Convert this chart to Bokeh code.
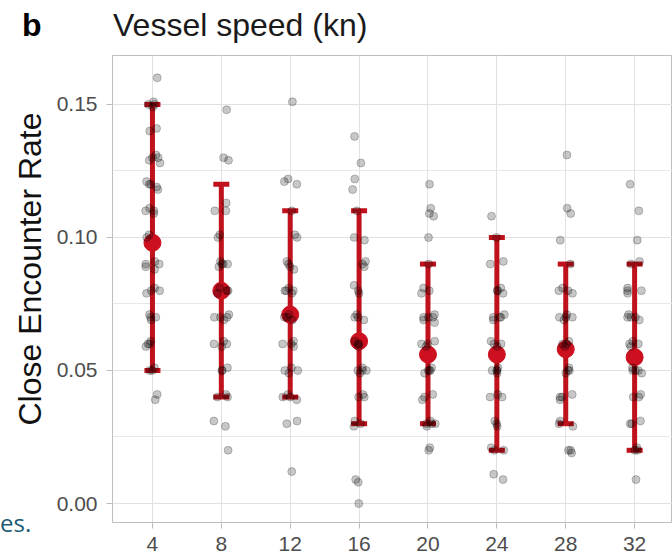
from bokeh.plotting import figure
from bokeh.layouts import column
from bokeh.models import (ColumnDataSource, FixedTicker, Range1d, Title, Div,
                          NumeralTickFormatter)
from bokeh.transform import jitter
from bokeh.embed import file_html
from bokeh.resources import INLINE

# ---- data ----
panel_tag = "b"
chart_title = "Vessel speed (kn)"
y_title = "Close Encounter Rate"
page_fragment = "es."
speeds = ["4", "8", "12", "16", "20", "24", "28", "32"]
mean_rate = [0.098, 0.080, 0.071, 0.061, 0.056, 0.056, 0.058, 0.055]
lower_rate = [0.05, 0.04, 0.04, 0.03, 0.03, 0.02, 0.03, 0.02]
upper_rate = [0.15, 0.12, 0.11, 0.11, 0.09, 0.10, 0.09, 0.09]

g4 = [0.160, 0.151, 0.150, 0.150, 0.149, 0.141, 0.140, 0.131, 0.130, 0.130, 0.129, 0.128,
      0.121, 0.120, 0.120, 0.119, 0.118, 0.111, 0.110, 0.110, 0.109, 0.101, 0.100, 0.091,
      0.090, 0.090, 0.089, 0.088, 0.081, 0.080, 0.080, 0.079, 0.071, 0.070, 0.070, 0.069,
      0.061, 0.060, 0.060, 0.059, 0.051, 0.050, 0.050, 0.041, 0.039]
g8 = [0.148, 0.130, 0.129, 0.113, 0.110, 0.110, 0.101, 0.100, 0.091, 0.090, 0.090, 0.090,
      0.089, 0.081, 0.080, 0.080, 0.079, 0.071, 0.070, 0.070, 0.070, 0.069, 0.061, 0.060,
      0.060, 0.059, 0.051, 0.050, 0.050, 0.041, 0.040, 0.040, 0.031, 0.029, 0.020]
g12 = [0.151, 0.122, 0.121, 0.120, 0.110, 0.101, 0.100, 0.091, 0.090, 0.089, 0.088, 0.081,
       0.080, 0.080, 0.080, 0.079, 0.071, 0.070, 0.070, 0.069, 0.061, 0.060, 0.060, 0.059,
       0.051, 0.050, 0.050, 0.049, 0.041, 0.040, 0.040, 0.039, 0.031, 0.030, 0.012]
g16 = [0.138, 0.128, 0.122, 0.118, 0.110, 0.100, 0.099, 0.091, 0.090, 0.089, 0.082, 0.080,
       0.079, 0.071, 0.070, 0.070, 0.069, 0.061, 0.060, 0.060, 0.059, 0.051, 0.050, 0.050,
       0.050, 0.049, 0.041, 0.040, 0.040, 0.031, 0.030, 0.029, 0.009, 0.008, 0.000]
g20 = [0.120, 0.111, 0.109, 0.108, 0.100, 0.090, 0.081, 0.080, 0.079, 0.071, 0.070, 0.070,
       0.070, 0.069, 0.068, 0.061, 0.060, 0.060, 0.059, 0.051, 0.050, 0.050, 0.050, 0.049,
       0.041, 0.040, 0.039, 0.031, 0.030, 0.030, 0.030, 0.029, 0.021, 0.020]
g24 = [0.108, 0.100, 0.091, 0.090, 0.081, 0.080, 0.080, 0.079, 0.071, 0.070, 0.070, 0.070,
       0.069, 0.061, 0.060, 0.060, 0.059, 0.051, 0.050, 0.050, 0.050, 0.049, 0.041, 0.040,
       0.040, 0.031, 0.030, 0.029, 0.021, 0.020, 0.020, 0.011, 0.009]
g28 = [0.131, 0.111, 0.109, 0.099, 0.090, 0.081, 0.080, 0.080, 0.079, 0.071, 0.070, 0.070,
       0.070, 0.069, 0.061, 0.060, 0.060, 0.059, 0.051, 0.050, 0.050, 0.049, 0.041, 0.040,
       0.040, 0.039, 0.031, 0.030, 0.029, 0.020, 0.020, 0.019]
g32 = [0.120, 0.110, 0.099, 0.091, 0.090, 0.081, 0.080, 0.080, 0.079, 0.071, 0.070, 0.070,
       0.070, 0.069, 0.061, 0.060, 0.060, 0.059, 0.051, 0.050, 0.050, 0.050, 0.049, 0.041,
       0.040, 0.040, 0.031, 0.030, 0.030, 0.021, 0.020, 0.020, 0.009]
observations = [g4, g8, g12, g16, g20, g24, g28, g32]
y_ticks = [0.0, 0.05, 0.10, 0.15]
y_minor = [0.025, 0.075, 0.125]

# ---- sources ----
pos = list(range(1, len(speeds) + 1))
px, py = [], []
for i, g in enumerate(observations):
    px += [pos[i]] * len(g)
    py += g
pts = ColumnDataSource(dict(x=px, y=py))
summ = ColumnDataSource(dict(x=pos, mean=mean_rate, lo=lower_rate, hi=upper_rate))

RED = "#C0121C"
GRID = "#E1E1E1"
BORDER = "#BDBDBD"
FONT = "Liberation Sans"

# ---- header (panel tag + title, plus the stray page text at lower left) ----
header = Div(
    text=('<div style="position:relative;font-family:\'Liberation Sans\',Arial,sans-serif;'
          'font-size:32px;line-height:32px;color:#1A1A1A;white-space:nowrap;'
          'padding-top:9px;margin:0;">'
          '<span style="display:inline-block;box-sizing:content-box;width:91px;'
          'padding-left:22px;font-weight:bold;color:#000;">%s</span>%s'
          '<span style="position:absolute;left:0px;top:511px;font-family:\'Open Sans\';'
          'font-size:24px;line-height:24px;color:#1D5B75;z-index:10;">%s</span>'
          '</div>') % (panel_tag, chart_title, page_fragment),
    width=672, height=47, margin=0,
    styles={"overflow": "visible", "z-index": "10"})

# ---- plot ----
p = figure(width=672, height=507, output_backend="svg", toolbar_location=None,
           title=None,
           x_range=Range1d(0.42, 8.55), y_range=Range1d(-0.00714, 0.1684),
           min_border_left=112, min_border_right=0, min_border_top=8,
           min_border_bottom=32, background_fill_color="white",
           border_fill_color="white", border_fill_alpha=0.0, margin=0)

p.outline_line_color = BORDER
p.outline_line_width = 1

for ax in (p.xaxis[0], p.yaxis[0]):
    ax.axis_line_color = None
    ax.major_tick_line_color = BORDER
    ax.major_tick_out = 6
    ax.major_tick_in = 0
    ax.minor_tick_line_color = None
    ax.major_label_text_font = FONT
    ax.major_label_text_font_size = "21px"
    ax.major_label_text_color = "#4D4D4D"

p.yaxis.ticker = FixedTicker(ticks=y_ticks, minor_ticks=y_minor)
p.yaxis.formatter = NumeralTickFormatter(format="0.00")
p.yaxis.major_label_standoff = 9

# y-axis title as a side title so it can sit where the reference puts it
ytitle = Title(text=y_title, align="left", offset=97, vertical_align="bottom",
               standoff=12, text_font=FONT, text_font_size="32px",
               text_font_style="normal", text_color="#111111")
p.add_layout(ytitle, "left")

p.xaxis.ticker = FixedTicker(ticks=pos)
p.xaxis.major_label_overrides = {pos[i]: s for i, s in enumerate(speeds)}
p.xaxis.major_label_standoff = 8

p.xgrid.grid_line_color = GRID
p.ygrid.grid_line_color = GRID
p.ygrid.minor_grid_line_color = "#E8E8E8"
p.ygrid.minor_grid_line_width = 1

# error bars and means
p.segment(x0="x", y0="lo", x1="x", y1="hi", source=summ, line_color=RED, line_width=5)
p.scatter(x="x", y="lo", source=summ, marker="dash", size=16, line_color=RED, line_width=5)
p.scatter(x="x", y="hi", source=summ, marker="dash", size=16, line_color=RED, line_width=5)
p.scatter(x="x", y="mean", source=summ, size=17, fill_color="#CC1020", line_color="#CC1020")

# jittered observations
p.scatter(x=jitter("x", width=0.22), y="y", source=pts, size=8,
          fill_color="black", fill_alpha=0.22, line_color="black", line_alpha=0.22)

layout = column(header, p, spacing=0, margin=0)
open("out.html", "w").write(file_html(layout, INLINE))
